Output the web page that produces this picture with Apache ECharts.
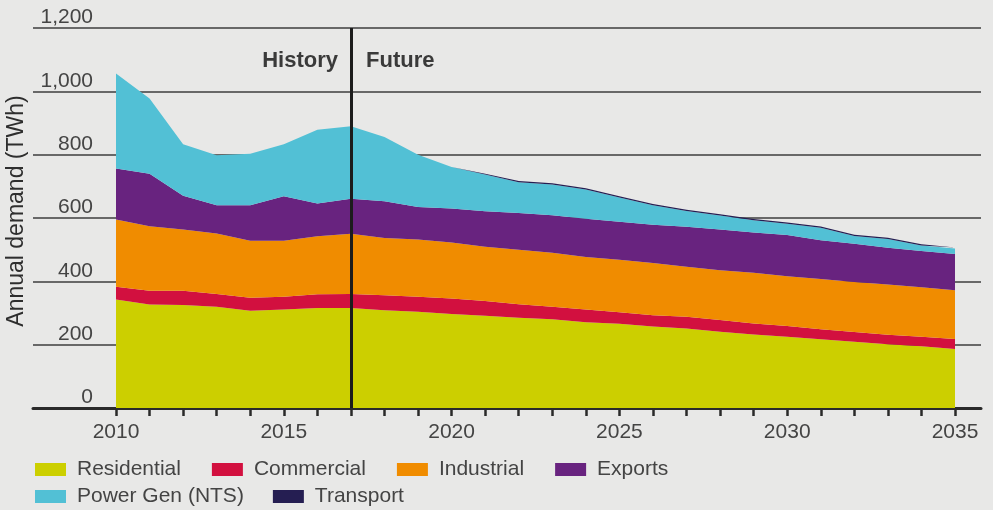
<!DOCTYPE html>
<html>
<head>
<meta charset="utf-8">
<script src="https://cdn.jsdelivr.net/npm/echarts@6/dist/echarts.min.js"></script>
<style>
html,body{margin:0;padding:0;background:#e8e8e7;}
#chart{width:993px;height:510px;}
</style>
</head>
<body>
<div id="chart"></div>
<script>
const years = ['2010','2011','2012','2013','2014','2015','2016','2017','2018','2019','2020','2021','2022','2023','2024','2025','2026','2027','2028','2029','2030','2031','2032','2033','2034','2035'];
const residential = [343,327,325,320,307,311,316,316,309,304,297,291,285,280,271,266,257,251,241,232,225,217,209,201,195,186];
const commercial  = [40,43,45,40,41,40,43,44,47,47,49,47,43,40,40,36,36,37,37,35,34,32,31,30,30,32];
const industrial  = [212,204,194,191,180,177,183,190,181,181,177,171,172,170,166,166,165,158,157,160,157,158,158,159,156,154];
const exportsVals = [161,166,106,89,112,141,104,111,116,103,107,112,116,119,121,120,121,126,129,127,130,123,121,116,115,114];
const powerGen    = [300,237,163,158,163,164,233,229,203,165,131,116,97,97,92,77,61,50,44,39,36,39,24,28,17,18];
const transport   = [0,0,0,0,0,0,0,0,0,0,0,3,4,4,4,4,4,4,4,4,4,4,4,4,4,3];
const seriesNames = ['Residential','Commercial','Industrial','Exports','Power Gen (NTS)','Transport'];
const seriesColors = ['#cccf00','#d2103f','#f08c00','#68237f','#52c0d5','#251e52'];
const yTicks = [0,200,400,600,800,1000,1200];
const labelYears = ['2010','2015','2020','2025','2030','2035'];
const dividerYear = '2017';

const allValues = [residential, commercial, industrial, exportsVals, powerGen, transport];
const FONT = '"Liberation Sans", Arial, Helvetica, sans-serif';

const chart = echarts.init(document.getElementById('chart'), null, {renderer:'canvas'});

const series = seriesNames.map((name, i) => {
  const s = {
    name: name,
    type: 'line',
    stack: 'total',
    xAxisIndex: 1,
    yAxisIndex: 1,
    symbol: 'none',
    showSymbol: false,
    lineStyle: {width: 0},
    itemStyle: {color: seriesColors[i]},
    areaStyle: {color: seriesColors[i], opacity: 1},
    data: allValues[i]
  };
  if (i === seriesNames.length - 1) {
    s.markLine = {
      silent: true,
      symbol: 'none',
      label: {show: false},
      lineStyle: {color: '#1c1c1c', width: 3, type: 'solid'},
      data: [{xAxis: dividerYear}]
    };
  }
  return s;
});

const legendText = {fontFamily: FONT, fontSize: 21, color: '#444', lineHeight: 25, padding: [0,0,0,6]};
const legends = [
  {data: seriesNames.slice(0,4), left: 35, top: 457, itemGap: 31},
  {data: seriesNames.slice(4), left: 35, top: 484, itemGap: 29}
].map(l => Object.assign(l, {
  orient: 'horizontal', padding: 0, itemWidth: 31, itemHeight: 13, icon: 'rect',
  selectedMode: false, textStyle: legendText
}));

chart.setOption({
  backgroundColor: '#e8e8e7',
  animation: false,
  grid: [
    {left: 33, right: 12, top: 28, bottom: 102, outerBoundsMode: 'none', containLabel: false},
    {left: 116, right: 38, top: 28, bottom: 102, outerBoundsMode: 'none', containLabel: false}
  ],
  xAxis: [
    {
      gridIndex: 0, type: 'value', min: 0, max: 1,
      axisLine: {show: true, lineStyle: {color: '#2a2a2a', width: 3}},
      axisTick: {show: false}, axisLabel: {show: false}, splitLine: {show: false}
    },
    {
      gridIndex: 1, type: 'category', data: years, boundaryGap: false,
      axisLine: {show: false},
      axisTick: {show: true, interval: 0, length: 8, lineStyle: {color: '#2a2a2a', width: 2.5}},
      splitLine: {show: false},
      axisLabel: {
        interval: 0, margin: 14, fontFamily: FONT, fontSize: 21, color: '#444',
        formatter: v => labelYears.indexOf(String(v)) >= 0 ? String(v) : ''
      }
    }
  ],
  yAxis: [
    {
      gridIndex: 0, type: 'value', min: yTicks[0], max: yTicks[yTicks.length-1], interval: 200,
      axisLine: {show: false}, axisTick: {show: false},
      splitLine: {show: true, lineStyle: {color: '#3e3e3e', width: 1.5}},
      axisLabel: {
        margin: -60, verticalAlign: 'bottom', fontFamily: FONT, fontSize: 21, color: '#444',
        formatter: v => v.toLocaleString('en-US')
      }
    },
    {
      gridIndex: 1, type: 'value', min: yTicks[0], max: yTicks[yTicks.length-1], interval: 200,
      show: false, splitLine: {show: false}
    }
  ],
  legend: legends,
  graphic: [
    {type: 'text', x: 17, y: 211, rotation: Math.PI / 2, silent: true,
     style: {text: 'Annual demand (TWh)', fontFamily: FONT, fontSize: 23, fill: '#2e2e2e',
             align: 'center', verticalAlign: 'middle'}},
    {type: 'text', left: 'auto', right: 993 - 338, top: 50, silent: true,
     style: {text: 'History', fontFamily: FONT, fontSize: 22, fontWeight: 'bold', fill: '#3a3a3a'}},
    {type: 'text', left: 366, top: 50, silent: true,
     style: {text: 'Future', fontFamily: FONT, fontSize: 22, fontWeight: 'bold', fill: '#3a3a3a'}}
  ],
  series: series
});
</script>
</body>
</html>
